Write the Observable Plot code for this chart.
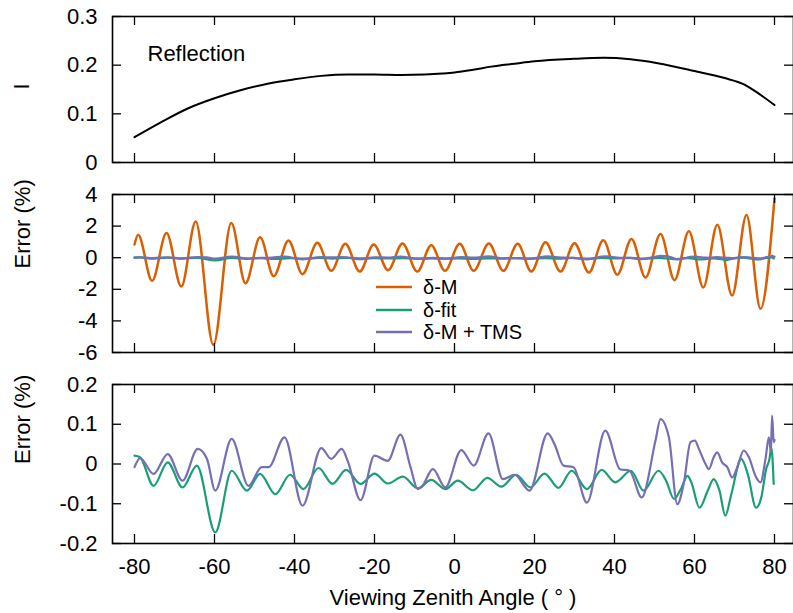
<!DOCTYPE html>
<html>
<head>
<meta charset="utf-8">
<script src="https://cdn.jsdelivr.net/npm/d3@7"></script>
<script src="https://cdn.jsdelivr.net/npm/@observablehq/plot@0.6"></script>
<style>
  body { margin: 0; background: #fff; }
  #chart { position: relative; width: 793px; height: 613px; font-family: "Liberation Sans", Arial, sans-serif; background: #fff; }
  #chart > svg { position: absolute; left: 0; }
  .legend { position: absolute; left: 376px; top: 275.75px; font-size: 20px; color: #000; }
  .legend .row { display: flex; align-items: center; height: 22.5px; }
  .legend .row span { display: inline-block; line-height: 20px; white-space: nowrap; }
  .legend svg { width: 36px; height: 6px; margin-right: 11px; }
</style>
</head>
<body>
<div id="chart"></div>
<script>
// ---------- data ----------
const xTicks = [-80, -60, -40, -20, 0, 20, 40, 60, 80];
const topTicks = [0, 0.1, 0.2, 0.3];
const midTicks = [-6, -4, -2, 0, 2, 4];
const botTicks = [-0.2, -0.1, 0, 0.1, 0.2];

const reflAngle = [-80, -73.3, -66.7, -60, -53.3, -46.7, -40, -33.3, -26.7, -20, -13.3, -7.5, -3, 0, 5, 9.2, 15, 20, 29.8, 37.3, 44, 50.8, 60, 67.3, 72.5, 75.8, 80];
const reflI     = [0.052, 0.083, 0.111, 0.132, 0.149, 0.162, 0.171, 0.178, 0.181, 0.181, 0.180, 0.181, 0.183, 0.185, 0.191, 0.197, 0.203, 0.208, 0.213, 0.215, 0.212, 0.204, 0.188, 0.174, 0.160, 0.143, 0.118];

const dmAngle = [-80, -79.1, -75.6, -72, -68.3, -64.7, -60.3, -55.8, -52.25, -48.6, -45.2, -41.5, -38, -34.3, -30.8, -27.3, -23.7, -20.2, -16.6, -13, -9.3, -5.8, -2.4, 1.3, 4.8, 8.6, 12.2, 15.8, 19.2, 22.75, 26.5, 30, 33.6, 37.2, 40.7, 44.25, 47.75, 51.5, 55, 58.6, 62.2, 65.7, 69.4, 73, 76.5, 80];
const dmError = [0.84, 1.46, -1.46, 1.56, -1.83, 2.29, -5.52, 2.19, -1.62, 1.29, -1.17, 1.09, -1.04, 0.94, -0.83, 0.88, -0.88, 0.84, -0.79, 0.9, -0.88, 0.79, -0.83, 0.88, -0.83, 0.9, -0.83, 0.88, -0.88, 0.98, -0.88, 0.92, -0.94, 1.1, -1.08, 1.19, -1.25, 1.5, -1.42, 1.67, -1.88, 2.08, -2.4, 2.71, -3.23, 3.75];

const fitAngle = [-80, -78.6, -75.25, -71.7, -68, -64.4, -59.8, -55.7, -51.9, -48.6, -44.8, -41.1, -37.75, -34, -30.5, -27.1, -23.5, -20, -16.7, -12.9, -9.2, -5.8, -2.3, 0.8, 4.6, 8.2, 11.7, 15.4, 19, 22.5, 26, 29.3, 33.1, 36.8, 40.2, 44.1, 47.25, 51, 52.9, 54.9, 56.6, 58.25, 59.2, 61.25, 63.3, 64.8, 66.25, 67.7, 69.2, 71.7, 73.3, 75.4, 76.7, 77.9, 78.75, 79.2, 79.8];
const fitError = [0.021, 0.017, -0.055, 0.004, -0.059, -0.004, -0.172, -0.017, -0.067, -0.025, -0.076, -0.027, -0.063, -0.01, -0.05, -0.015, -0.05, -0.024, -0.049, -0.032, -0.061, -0.04, -0.063, -0.042, -0.066, -0.035, -0.057, -0.027, -0.059, -0.024, -0.06, -0.017, -0.063, -0.015, -0.046, -0.017, -0.067, -0.017, -0.042, -0.088, -0.063, -0.03, -0.046, -0.11, -0.067, -0.038, -0.067, -0.13, -0.076, 0.013, -0.025, -0.11, -0.084, -0.013, 0.013, 0.042, -0.05];

const tmsAngle = [-80, -78.6, -75.25, -71.7, -68, -64.2, -61.9, -59.8, -55.7, -51.5, -48.2, -46.5, -42.5, -38, -33.3, -30.8, -28.2, -26.7, -23.5, -20, -16.7, -13.5, -11, -9.2, -8.3, -5.4, -2.3, 1.7, 4.8, 8.5, 12.1, 15, 18.75, 23.3, 25, 27.25, 29.75, 33.1, 37.7, 41.4, 43.75, 46.8, 50.25, 51.5, 53.6, 55.7, 57.3, 59, 60.1, 61.1, 62.75, 63.6, 64.8, 65.7, 66.9, 68.2, 69.4, 70.7, 72.3, 73.6, 75.25, 76.5, 77.75, 78.6, 79.1, 79.4, 79.8, 80];
const tmsError = [-0.008, 0.015, -0.025, 0.025, -0.042, 0.038, 0.013, -0.067, 0.063, -0.055, -0.008, -0.008, 0.067, -0.105, 0.04, 0.013, 0.038, 0.008, -0.091, 0.021, 0.008, 0.074, -0.008, -0.063, -0.059, -0.013, -0.059, 0.035, -0.004, 0.077, -0.038, -0.027, -0.067, 0.077, 0.05, -0.004, -0.008, -0.097, 0.084, -0.013, -0.017, -0.084, 0.059, 0.113, 0.067, -0.101, -0.05, 0.055, 0.059, 0.038, 0, -0.013, 0.017, 0.029, 0.004, -0.008, -0.034, -0.008, 0.034, 0.017, -0.03, -0.046, 0.013, 0.067, 0.03, 0.122, 0.055, 0.06];

const seriesNames = ["δ-M", "δ-fit", "δ-M + TMS"];
const seriesColors = ["#d95f02", "#1b9e77", "#7570b3"];

const refl = reflAngle.map((a, i) => ({a, v: reflI[i]}));
const dm = dmAngle.map((a, i) => ({a, v: dmError[i]}));
const fit = fitAngle.map((a, i) => ({a, v: fitError[i]}));
const tms = tmsAngle.map((a, i) => ({a, v: tmsError[i]}));

// ---------- panels ----------
const W = 793, ML = 112, MR = 0, FS = 22, TICK = 9;
const FW = W - ML - MR;
const fmt = d => String(d);

function frameMarks(yTicks, fh) {
  return [
    Plot.frame({stroke: "black", strokeWidth: 1.6}),
    // inward ticks on all four sides
    Plot.tickX(xTicks, {x: d => d, insetTop: fh - TICK, stroke: "black", strokeWidth: 1.3}),
    Plot.tickX(xTicks, {x: d => d, insetBottom: fh - TICK, stroke: "black", strokeWidth: 1.3}),
    Plot.tickY(yTicks, {y: d => d, insetRight: FW - TICK, stroke: "black", strokeWidth: 1.3}),
    Plot.tickY(yTicks, {y: d => d, insetLeft: FW - TICK, stroke: "black", strokeWidth: 1.3}),
    Plot.axisY({anchor: "left", ticks: yTicks, tickSize: 0, tickPadding: 15, tickFormat: fmt, label: null, fontSize: FS})
  ];
}

function panel({height, marginTop, marginBottom, domain, ticks, marks, xAxis}) {
  const fh = height - marginTop - marginBottom;
  return Plot.plot({
    width: W, height, marginLeft: ML, marginRight: MR, marginTop, marginBottom,
    style: {fontFamily: '"Liberation Sans", Arial, sans-serif', fontSize: FS + "px", color: "black", background: "white", overflow: "visible"},
    x: xAxis ? {domain: [-80, 80], range: [134, 774]} : {domain: [-80, 80], range: [134, 774], axis: null},
    y: {domain},
    marks: [...marks, ...frameMarks(ticks, fh)]
  });
}

const topPanel = panel({
  height: 178, marginTop: 16, marginBottom: 16, domain: [0, 0.3], ticks: topTicks,
  marks: [
    Plot.line(refl, {x: "a", y: "v", stroke: "black", strokeWidth: 2, curve: "monotone-x"}),
    Plot.text(["Reflection"], {frameAnchor: "top-left", dx: 35, dy: 29, textAnchor: "start", fontSize: FS}),
    Plot.text(["I"], {frameAnchor: "left", dx: -91, rotate: -90, fontSize: FS})
  ]
});

const midPanel = panel({
  height: 190, marginTop: 16, marginBottom: 16, domain: [-6, 4], ticks: midTicks,
  marks: [
    Plot.line(dm, {x: "a", y: "v", stroke: seriesColors[0], strokeWidth: 2.5, curve: "monotone-x"}),
    Plot.line(fit, {x: "a", y: "v", stroke: seriesColors[1], strokeWidth: 2.3, curve: "monotone-x"}),
    Plot.line(tms, {x: "a", y: "v", stroke: seriesColors[2], strokeWidth: 2.3, curve: "monotone-x"}),
    Plot.text(["Error (%)"], {frameAnchor: "left", dx: -90, dy: -5, rotate: -90, fontSize: FS})
  ]
});

const botPanel = panel({
  height: 245, marginTop: 16, marginBottom: 70, domain: [-0.2, 0.2], ticks: botTicks, xAxis: true,
  marks: [
    Plot.line(fit, {x: "a", y: "v", stroke: seriesColors[1], strokeWidth: 2.2, curve: "monotone-x"}),
    Plot.line(tms, {x: "a", y: "v", stroke: seriesColors[2], strokeWidth: 2.2, curve: "monotone-x"}),
    Plot.axisX({anchor: "bottom", ticks: xTicks, tickSize: 0, tickPadding: 15, tickFormat: fmt, label: null, fontSize: FS}),
    Plot.text(["Viewing Zenith Angle ( ° )"], {frameAnchor: "bottom", dy: 61, fontSize: FS}),
    Plot.text(["Error (%)"], {frameAnchor: "left", dx: -90, rotate: -90, fontSize: FS})
  ]
});

const chart = document.getElementById("chart");
topPanel.style.top = "0px";
midPanel.style.top = "178px";
botPanel.style.top = "368px";
chart.append(topPanel, midPanel, botPanel);

// legend (inside the middle panel)
const legend = document.createElement("div");
legend.className = "legend";
seriesNames.forEach((name, i) => {
  const row = document.createElement("div");
  row.className = "row";
  row.innerHTML = `<svg viewBox="0 0 36 6"><line x1="0" x2="36" y1="3" y2="3" stroke="${seriesColors[i]}" stroke-width="2.5"/></svg><span>${name}</span>`;
  legend.append(row);
});
chart.append(legend);
</script>
</body>
</html>
